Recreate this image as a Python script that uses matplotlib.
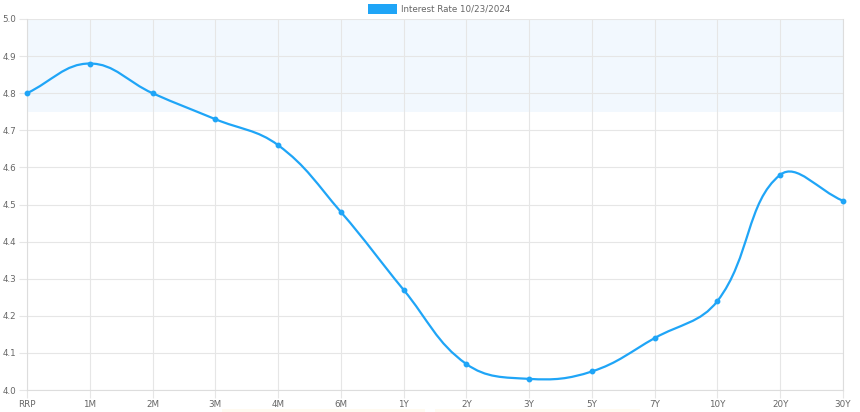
import numpy as np
import matplotlib
matplotlib.use('Agg')
from matplotlib import pyplot as plt
from matplotlib.path import Path
from matplotlib.patches import PathPatch, Rectangle

# 数据
labels = ['RRP', '1M', '2M', '3M', '4M', '6M', '1Y', '2Y', '3Y', '5Y', '7Y', '10Y', '20Y', '30Y']
rates = [4.80, 4.88, 4.80, 4.73, 4.66, 4.48, 4.27, 4.07, 4.03, 4.05, 4.14, 4.24, 4.58, 4.51]
legend_label = 'Interest Rate 10/23/2024'
band_low, band_high = 4.75, 5.0
y_ticks = [4.0, 4.1, 4.2, 4.3, 4.4, 4.5, 4.6, 4.7, 4.8, 4.9, 5.0]

line_color = '#1fa5f7'
grid_color = '#e6e6e6'
text_color = '#666666'

W, H = 860, 412
fig = plt.figure(figsize=(W / 100, H / 100), dpi=100)
left, right, top, bottom = 27, 843, 19, 390
ax = fig.add_axes([left / W, 1 - bottom / H, (right - left) / W, (bottom - top) / H])

n = len(labels)
x = np.arange(n, dtype=float)
y = np.array(rates)

ax.set_xlim(0, n - 1)
ax.set_ylim(4.0, 5.0)

# 背景区间
ax.axhspan(band_low, band_high, color='#f2f8fe', zorder=0, lw=0)

# 平滑曲线（按像素距离加权的贝塞尔控制点，tension 0.4）
sx = (right - left) / (n - 1)
sy = (bottom - top) / 1.0
px, py = x * sx, y * sy
tension = 0.4
cps = []
for i in range(n):
    i0, i2 = max(i - 1, 0), min(i + 1, n - 1)
    d01 = np.hypot(px[i] - px[i0], py[i] - py[i0])
    d12 = np.hypot(px[i2] - px[i], py[i2] - py[i])
    tot = d01 + d12
    fa = tension * d01 / tot
    fb = tension * d12 / tot
    dx, dy = px[i2] - px[i0], py[i2] - py[i0]
    cps.append(((px[i] - fa * dx) / sx, (py[i] - fa * dy) / sy,
                (px[i] + fb * dx) / sx, (py[i] + fb * dy) / sy))

verts = [(x[0], y[0])]
codes = [Path.MOVETO]
for i in range(n - 1):
    verts += [(cps[i][2], cps[i][3]), (cps[i + 1][0], cps[i + 1][1]), (x[i + 1], y[i + 1])]
    codes += [Path.CURVE4] * 3
ax.add_patch(PathPatch(Path(verts, codes), fill=False, edgecolor=line_color, lw=1.6, zorder=3,
                       capstyle='round', joinstyle='round'))
ax.plot(x, y, 'o', color=line_color, ms=3.2, zorder=4, clip_on=False)

# 坐标轴
ax.set_xticks(x)
ax.set_xticklabels(labels)
ax.set_yticks(y_ticks)
ax.set_yticklabels([f'{v:.1f}' for v in y_ticks])
ax.grid(True, color=grid_color, lw=0.8)
ax.set_axisbelow(True)
ax.spines['top'].set_visible(False)
for s in ['left', 'bottom', 'right']:
    ax.spines[s].set_color('#dddddd')
    ax.spines[s].set_linewidth(0.8)
ax.tick_params(axis='both', colors=grid_color, labelcolor=text_color, labelsize=6.3, length=6, width=0.8, pad=1.5)

# 图例
fig.patches.append(Rectangle((368 / W, 1 - 14 / H), 29 / W, 10 / H, transform=fig.transFigure,
                             facecolor=line_color, edgecolor='none'))
fig.text(401 / W, 1 - 9 / H, legend_label, fontsize=6.3, color=text_color, va='center', ha='left')

# 底部被裁切的面板边缘
fig.patches.append(Rectangle((222 / W, 0), 203 / W, 3 / H, transform=fig.transFigure,
                             facecolor='#fffaf0', edgecolor='none'))
fig.patches.append(Rectangle((435 / W, 0), 205 / W, 3 / H, transform=fig.transFigure,
                             facecolor='#fffaf0', edgecolor='none'))

plt.savefig('out.png', dpi=100)
